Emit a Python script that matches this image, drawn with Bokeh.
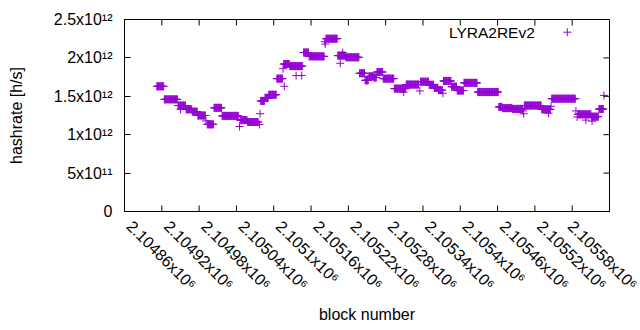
import math
from bokeh.plotting import figure
from bokeh.models import ColumnDataSource, FixedTicker, LinearAxis, Range1d, Label
from bokeh.embed import file_html
from bokeh.resources import INLINE

# --- data: hashrate is constant over runs of blocks (first block, last block, rate in 1e12 h/s)
seg_start = [2104912, 2104924, 2104946, 2104959, 2104969, 2104978, 2104993, 2105004,
             2105017, 2105046, 2105058, 2105079, 2105086, 2105092, 2105105, 2105116,
             2105126, 2105148, 2105157, 2105184, 2105203, 2105216, 2105238, 2105247,
             2105253, 2105261, 2105266, 2105276, 2105294, 2105313, 2105336, 2105350,
             2105358, 2105365, 2105373, 2105386, 2105395, 2105406, 2105428, 2105462,
             2105468, 2105484, 2105503, 2105531, 2105547, 2105589, 2105611, 2105623]
seg_end = [2104923, 2104945, 2104958, 2104968, 2104977, 2104990, 2105003, 2105016,
           2105043, 2105057, 2105075, 2105085, 2105091, 2105104, 2105114, 2105125,
           2105146, 2105156, 2105181, 2105202, 2105215, 2105237, 2105246, 2105252,
           2105260, 2105265, 2105275, 2105293, 2105312, 2105333, 2105349, 2105357,
           2105364, 2105371, 2105385, 2105394, 2105405, 2105427, 2105461, 2105467,
           2105483, 2105500, 2105530, 2105545, 2105585, 2105610, 2105622, 2105630]
seg_rate = [1.63, 1.46, 1.38, 1.33, 1.30, 1.25, 1.135, 1.35,
            1.245, 1.19, 1.165, 1.44, 1.48, 1.52, 1.73, 1.92,
            1.893, 2.07, 2.02, 2.25, 2.03, 2.008, 1.80, 1.708,
            1.76, 1.745, 1.816, 1.73, 1.60, 1.653, 1.69, 1.65,
            1.61, 1.58, 1.70, 1.625, 1.575, 1.675, 1.555, 1.362,
            1.346, 1.336, 1.38, 1.33, 1.469, 1.265, 1.235, 1.335]

# isolated blocks
pt_block = [2104950, 2104991, 2105045, 2105077, 2105078, 2105115, 2105117, 2105136,
            2105145, 2105182, 2105183, 2105207, 2105211, 2105309, 2105335, 2105372,
            2105501, 2105502, 2105542, 2105546, 2105586, 2105588, 2105602, 2105612,
            2105631]
pt_rate = [1.33, 1.18, 1.107, 1.133, 1.273, 1.86, 1.63, 1.77,
           1.77, 2.21, 2.18, 1.93, 2.07, 1.555, 1.57, 1.54,
           1.31, 1.273, 1.28, 1.37, 1.31, 1.23, 1.19, 1.176,
           1.512]

x_ticks = [2104860, 2104920, 2104980, 2105040, 2105100, 2105160, 2105220,
           2105280, 2105340, 2105400, 2105460, 2105520, 2105580, 2105640]
x_tick_labels = ["2.10486x10⁶", "2.10492x10⁶", "2.10498x10⁶", "2.10504x10⁶",
                 "2.1051x10⁶", "2.10516x10⁶", "2.10522x10⁶", "2.10528x10⁶",
                 "2.10534x10⁶", "2.1054x10⁶", "2.10546x10⁶", "2.10552x10⁶",
                 "2.10558x10⁶", "2.10564x10⁶"]
y_ticks = [0, 0.5e12, 1.0e12, 1.5e12, 2.0e12, 2.5e12]
y_tick_labels = ["0", "5x10¹¹", "1x10¹²", "1.5x10¹²", "2x10¹²", "2.5x10¹²"]

series_name = "LYRA2REv2"
x_title = "block number"
y_title = "hashrate [h/s]"

# --- build one point per block
blocks, rates = [], []
for s, e, r in zip(seg_start, seg_end, seg_rate):
    for b in range(s, e + 1):
        blocks.append(b)
        rates.append(r * 1e12)
for b, r in zip(pt_block, pt_rate):
    blocks.append(b)
    rates.append(r * 1e12)
src = ColumnDataSource(data=dict(block=blocks, rate=rates))

COLOR = "#9400D3"
FONT = "Liberation Sans"
FS = "16px"
FS_KEY = "15.5px"
FRAME_W = 640 - 124 - 31
LABEL_SHIFT_PX = 5   # gnuplot starts rotated tick labels slightly right of the tick

p = figure(width=640, height=330, output_backend="svg", toolbar_location=None,
           x_range=Range1d(x_ticks[0], x_ticks[-1]), y_range=Range1d(y_ticks[0], y_ticks[-1]),
           x_axis_location=None,
           min_border_left=124, min_border_right=31, min_border_top=19, min_border_bottom=119)
p.grid.visible = False
p.outline_line_color = "black"
p.outline_line_width = 1
p.background_fill_color = "white"
p.border_fill_color = "white"

p.scatter(x="block", y="rate", source=src, marker="cross", size=8,
          line_color=COLOR, line_width=1)

def style(ax):
    ax.axis_line_color = "black"
    ax.major_tick_in = 6
    ax.major_tick_out = 0
    ax.minor_tick_in = 0
    ax.minor_tick_out = 0
    ax.major_tick_line_color = "black"
    ax.major_label_text_font = FONT
    ax.major_label_text_font_size = FS
    ax.major_label_text_color = "black"
    ax.axis_label_text_font = FONT
    ax.axis_label_text_font_size = FS
    ax.axis_label_text_font_style = "normal"
    ax.axis_label_text_color = "black"

# bottom axis: labels positioned on a slightly shifted copy of the x range;
# the label of the right-most tick would run off the page, so only the ticks
# that fall inside the shifted range get a label
span = x_ticks[-1] - x_ticks[0]
shift = LABEL_SHIFT_PX * span / FRAME_W
lab_lo, lab_hi = x_ticks[0] - shift, x_ticks[-1] - shift
p.extra_x_ranges = {"xlab": Range1d(lab_lo, lab_hi), "key": Range1d(0, 1)}
p.extra_y_ranges = {"key": Range1d(0, 1)}
xa = LinearAxis(x_range_name="xlab", ticker=FixedTicker(ticks=x_ticks))
style(xa)
xa.major_tick_line_color = None
xa.major_label_overrides = {t: l for t, l in zip(x_ticks, x_tick_labels)}
xa.major_label_orientation = -math.pi / 4
xa.major_label_standoff = 12
xa.axis_label = x_title
xa.axis_label_standoff = 4
p.add_layout(xa, "below")

ya = p.yaxis[0]
ya.ticker = FixedTicker(ticks=y_ticks)
ya.major_label_overrides = {t: l for t, l in zip(y_ticks, y_tick_labels)}
ya.axis_label = y_title
style(ya)
ya.major_label_standoff = 12
ya.axis_label_standoff = 26

# inward ticks on the bottom, top and right borders
n = len(x_ticks)
p.ray(x=x_ticks, y=[y_ticks[0]] * n, length=6, length_units="screen",
      angle=math.pi / 2, line_color="black", line_width=1)
p.ray(x=x_ticks, y=[y_ticks[-1]] * n, length=6, length_units="screen",
      angle=-math.pi / 2, line_color="black", line_width=1)
p.ray(x=[x_ticks[-1]] * len(y_ticks), y=y_ticks, length=6, length_units="screen",
      angle=math.pi, line_color="black", line_width=1)

# key (gnuplot style: text then sample)
p.add_layout(Label(x=0.846, y=0.934, x_range_name="key", y_range_name="key",
                   text=series_name, text_align="right", text_baseline="middle",
                   text_font=FONT, text_font_size=FS_KEY, text_color="black"))
p.scatter(x=[0.913], y=[0.934], x_range_name="key", y_range_name="key",
          marker="cross", size=8, line_color=COLOR, line_width=1)

open("out.html", "w").write(file_html(p, INLINE))
